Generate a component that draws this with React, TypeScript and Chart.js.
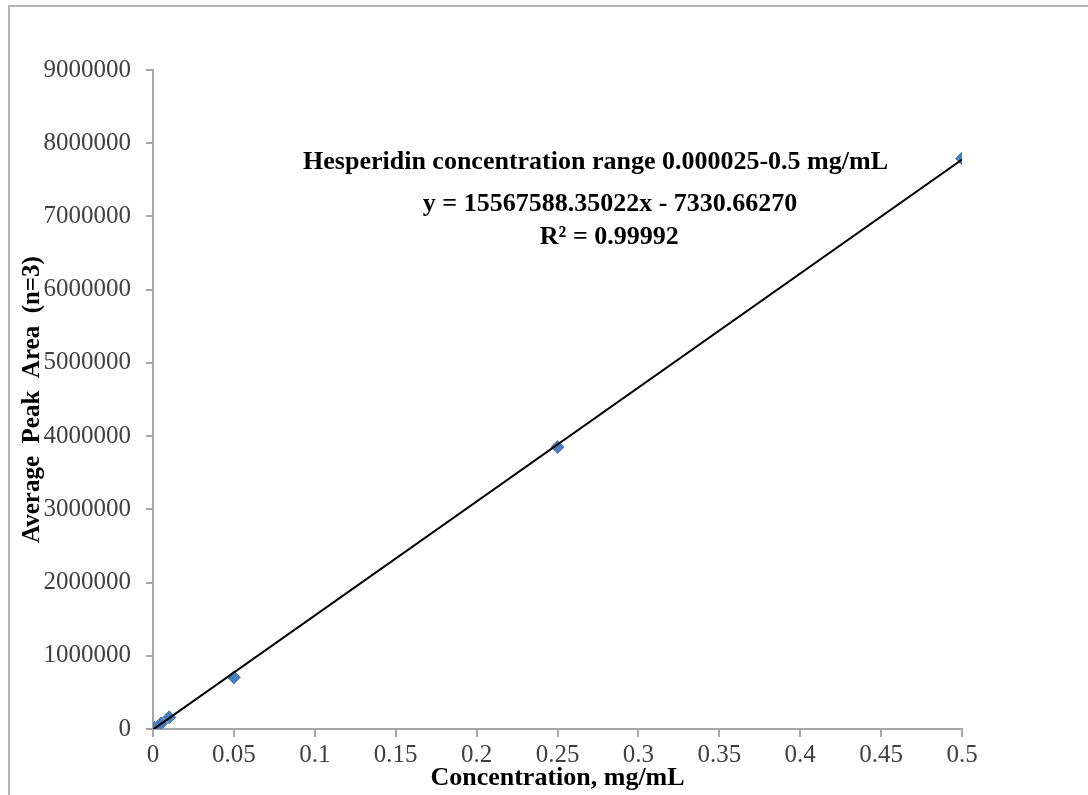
import React, { useEffect, useRef } from "react";
import { Chart, registerables } from "chart.js";

Chart.register(...registerables);

const concentrations = [0.000025, 0.0001, 0.001, 0.005, 0.01, 0.05, 0.25, 0.5];
const peakAreas = [380, 1500, 15000, 76000, 160000, 705000, 3850000, 7790000];
const trendX = [0.000025, 0.5];
const trendY = [-6941, 7776464];
const annotationLines = [
  "Hesperidin concentration range 0.000025-0.5 mg/mL",
  "y = 15567588.35022x - 7330.66270",
  "R² = 0.99992",
];

const serif = "'Liberation Serif', 'Times New Roman', serif";

const annotationPlugin = {
  id: "annot",
  afterDraw(chart: any) {
    const { ctx, chartArea } = chart;
    const w = chartArea.right - chartArea.left;
    ctx.save();
    ctx.fillStyle = "#000";
    ctx.font = `bold 26px ${serif}`;
    ctx.textAlign = "center";
    ctx.textBaseline = "middle";
    ctx.fillText(annotationLines[0], chartArea.left + w * 0.547, 162);
    ctx.fillText(annotationLines[1], chartArea.left + w * 0.565, 204);
    ctx.fillText(annotationLines[2], chartArea.left + w * 0.564, 237);
    ctx.restore();
  },
};

export default function App() {
  const ref = useRef<HTMLCanvasElement | null>(null);
  useEffect(() => {
    if (!ref.current) return;
    const axisColor = "#a6a6a6";
    const chart = new Chart(ref.current, {
      type: "scatter",
      data: {
        datasets: [
          {
            label: "Trend",
            type: "line",
            data: trendX.map((x, i) => ({ x, y: trendY[i] })),
            borderColor: "#000",
            borderWidth: 2,
            pointRadius: 0,
            order: 0,
          },
          {
            label: "Hesperidin",
            data: concentrations.map((x, i) => ({ x, y: peakAreas[i] })),
            backgroundColor: "#4a7ebb",
            borderColor: "#4a7ebb",
            pointStyle: "rectRot",
            pointRadius: 6.5,
            order: 1,
          },
        ],
      },
      options: {
        responsive: false,
        animation: false,
        layout: { padding: { left: 0, right: 126, top: 70, bottom: 0 } },
        plugins: { legend: { display: false }, tooltip: { enabled: false } },
        scales: {
          x: {
            type: "linear",
            min: 0,
            max: 0.5,
            afterFit: (s: any) => {
              s.height = 66;
            },
            ticks: {
              stepSize: 0.05,
              color: "#404040",
              padding: 3,
              font: { family: serif, size: 25 },
              callback: (v: any) => String(Number(Number(v).toFixed(2))),
            },
            grid: { drawOnChartArea: false, drawTicks: true, tickLength: 8, color: axisColor, lineWidth: 2 },
            border: { color: axisColor, width: 2 },
            title: {
              display: true,
              text: "Concentration, mg/mL",
              color: "#000",
              padding: { top: 0, bottom: 1 },
              font: { family: serif, size: 26, weight: "bold" },
            },
          },
          y: {
            type: "linear",
            min: 0,
            max: 9000000,
            afterFit: (s: any) => {
              s.width = 153;
            },
            ticks: {
              stepSize: 1000000,
              color: "#404040",
              padding: 15,
              font: { family: serif, size: 25 },
              callback: (v: any) => String(v),
            },
            grid: { drawOnChartArea: false, drawTicks: true, tickLength: 7, color: axisColor, lineWidth: 2 },
            border: { color: axisColor, width: 2 },
            title: {
              display: true,
              text: "Average  Peak  Area  (n=3)",
              color: "#000",
              padding: { top: 18, bottom: 0 },
              font: { family: serif, size: 25, weight: "bold" },
            },
          },
        },
      },
      plugins: [annotationPlugin],
    } as any);
    return () => chart.destroy();
  }, []);

  return (
    <div style={{ position: "absolute", left: 0, top: 0, width: 1088, height: 795, background: "#fff", overflow: "hidden" }}>
      <div
        style={{
          position: "absolute",
          left: 8,
          top: 5,
          width: 1200,
          height: 900,
          borderTop: "2px solid #b4b4b4",
          borderLeft: "2px solid #b4b4b4",
        }}
      />
      <canvas ref={ref} width={1088} height={795} style={{ position: "absolute", left: 0, top: 0 }} />
    </div>
  );
}
